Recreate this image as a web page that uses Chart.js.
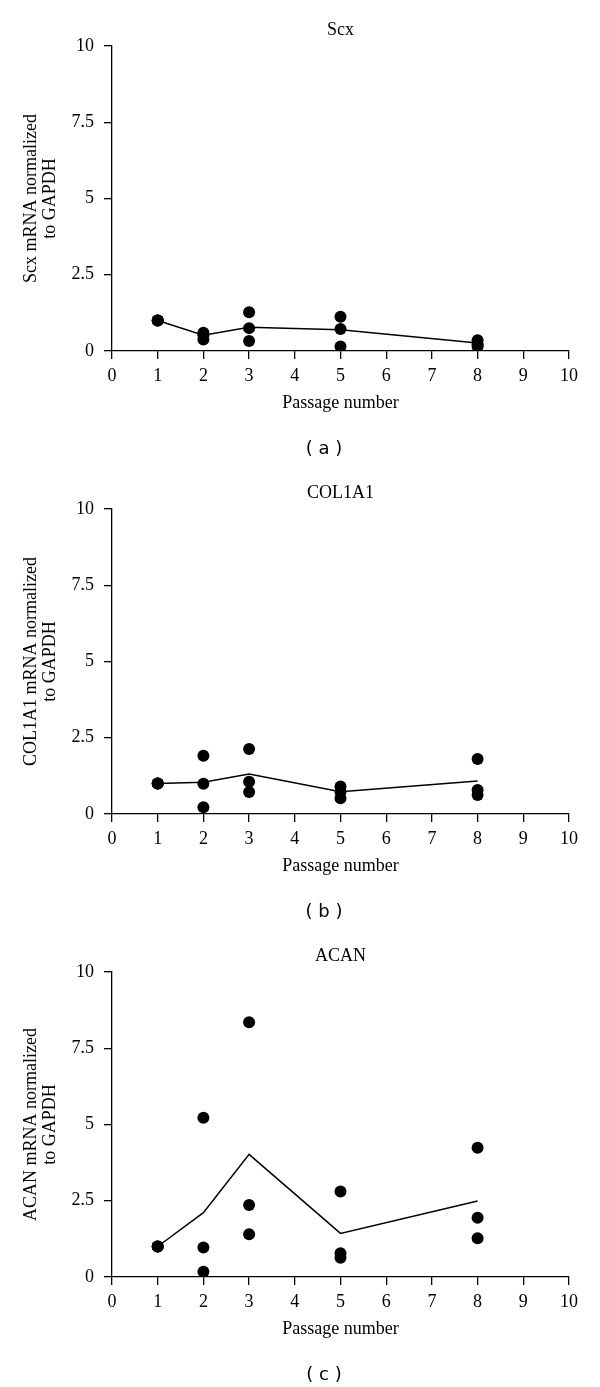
<!DOCTYPE html>
<html>
<head>
<meta charset="utf-8">
<script src="https://cdn.jsdelivr.net/npm/chart.js@4.4.0/dist/chart.umd.min.js"></script>
<style>
  body { margin: 0; background: #fff; width: 600px; height: 1387px; overflow: hidden; position: relative; }
  .panel { position: absolute; left: 0; width: 600px; height: 463px; }
  .caption { position: absolute; left: 0; width: 648px; text-align: center; font-family: 'DejaVu Sans', sans-serif; font-size: 18px; line-height: 20px; color: #000; }
</style>
</head>
<body>
<div class="panel" style="top:0px"><canvas id="chartA" width="600" height="463"></canvas><div class="caption" style="top:438px">( a )</div></div>
<div class="panel" style="top:463px"><canvas id="chartB" width="600" height="463"></canvas><div class="caption" style="top:438px">( b )</div></div>
<div class="panel" style="top:926px"><canvas id="chartC" width="600" height="463"></canvas><div class="caption" style="top:438px">( c )</div></div>
<script>
// passage numbers on the x axis
const passages = [1, 2, 3, 5, 8];
const xTicks = [0, 1, 2, 3, 4, 5, 6, 7, 8, 9, 10];
const yTicks = [0, 2.5, 5, 7.5, 10];

// replicates per passage
const scxValues = [[1.0, 1.0, 1.0], [0.6, 0.52, 0.38], [1.27, 0.75, 0.33], [1.12, 0.72, 0.15], [0.35, 0.22, 0.15]];
const scxMean = [1.0, 0.52, 0.78, 0.7, 0.26];

const colValues = [[1.0, 1.0, 1.0], [1.91, 0.99, 0.22], [2.13, 1.06, 0.72], [0.9, 0.72, 0.52], [1.8, 0.79, 0.62]];
const colMean = [1.0, 1.04, 1.31, 0.73, 1.08];

const acanValues = [[1.0, 1.0, 1.0], [5.22, 0.97, 0.17], [8.35, 2.36, 1.4], [2.8, 0.78, 0.63], [4.24, 1.94, 1.27]];
const acanMean = [1.0, 2.11, 4.02, 1.43, 2.49];

Chart.defaults.font.family = "'Liberation Serif', serif";
Chart.defaults.font.size = 18;
Chart.defaults.color = '#000';

function makeChart(id, title, yTitle, values, means) {
  const pts = [];
  passages.forEach((p, i) => {
    values[i].forEach((v) => pts.push({ x: p, y: v }));
  });
  const line = passages.map((p, i) => ({ x: p, y: means[i] }));

  return new Chart(document.getElementById(id), {
    type: 'scatter',
    data: {
      datasets: [
        {
          data: line,
          showLine: true,
          borderColor: '#000',
          borderWidth: 1.5,
          pointRadius: 0,
          fill: false,
        },
        {
          data: pts,
          pointRadius: 6,
          pointBackgroundColor: '#000',
          pointBorderColor: '#000',
          pointBorderWidth: 0,
        },
      ],
    },
    options: {
      responsive: false,
      animation: false,
      devicePixelRatio: 1,
      layout: { padding: { left: 0, right: 31, top: 0, bottom: 29 } },
      plugins: {
        legend: { display: false },
        tooltip: { enabled: false },
        title: {
          display: true,
          text: title,
          fullSize: false,
          font: { size: 18, weight: 'normal' },
          padding: { top: 19, bottom: 5.4 },
        },
      },
      scales: {
        x: {
          type: 'linear',
          min: 0,
          max: 10,
          afterBuildTicks: (scale) => { scale.ticks = xTicks.map((v) => ({ value: v })); },
          afterFit: (scale) => { scale.height = 83; },
          border: { color: '#000', width: 1.3 },
          grid: { drawOnChartArea: false, drawTicks: true, tickLength: 8, color: '#000', lineWidth: 1.3 },
          ticks: { padding: 6, maxRotation: 0 },
          title: { display: true, text: 'Passage number', font: { size: 18 }, padding: { top: 0, bottom: 20 } },
        },
        y: {
          type: 'linear',
          min: 0,
          max: 10,
          afterBuildTicks: (scale) => { scale.ticks = yTicks.map((v) => ({ value: v })); },
          afterFit: (scale) => { scale.width = 112; },
          border: { color: '#000', width: 1.3 },
          grid: { drawOnChartArea: false, drawTicks: true, tickLength: 8, color: '#000', lineWidth: 1.3 },
          ticks: { padding: 10 },
          title: { display: true, text: yTitle, font: { size: 18, lineHeight: 1.1 }, padding: { top: 21, bottom: 0 } },
        },
      },
    },
  });
}

makeChart('chartA', 'Scx', ['Scx mRNA normalized', 'to GAPDH'], scxValues, scxMean);
makeChart('chartB', 'COL1A1', ['COL1A1 mRNA normalized', 'to GAPDH'], colValues, colMean);
makeChart('chartC', 'ACAN', ['ACAN mRNA normalized', 'to GAPDH'], acanValues, acanMean);
</script>
</body>
</html>
